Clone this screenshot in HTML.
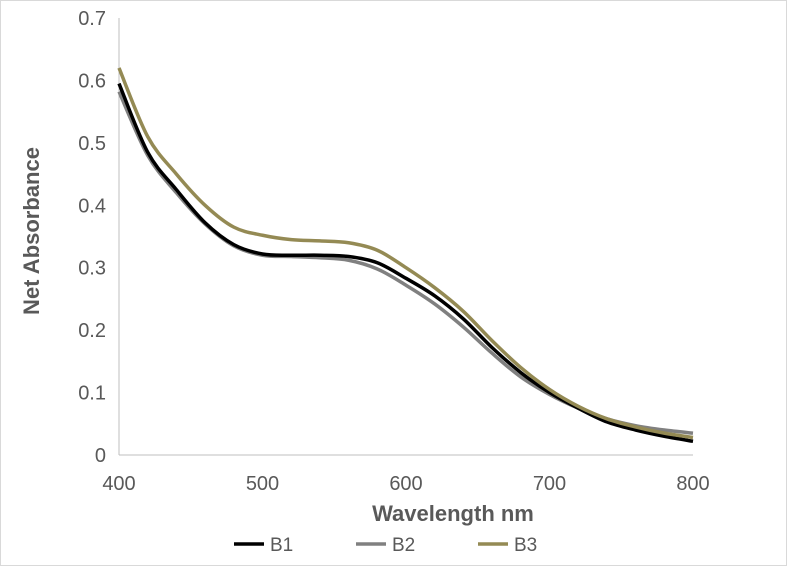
<!DOCTYPE html>
<html><head><meta charset="utf-8"><style>
body{margin:0;background:#fff;}
svg{display:block;font-family:"Liberation Sans",sans-serif;}
</style></head><body>
<svg id="chart" width="787" height="566">
<rect x="0.5" y="0.5" width="786" height="565" fill="#fff" stroke="#d9d9d9"/>
<g id="axes"></g>
<g id="series"></g>
<text x="453" y="521" text-anchor="middle" font-size="22" font-weight="bold" fill="#595959">Wavelength nm</text>
<text transform="translate(39,231) rotate(-90)" text-anchor="middle" font-size="22" font-weight="bold" fill="#595959">Net Absorbance</text>
<g id="legend"></g>
</svg>
<script>
const categories=[400,420,440,460,480,500,520,540,560,580,600,620,640,660,680,700,720,740,760,780,800];
const b1=[0.595,0.485,0.425,0.372,0.337,0.322,0.320,0.320,0.318,0.308,0.283,0.255,0.218,0.172,0.132,0.100,0.075,0.053,0.040,0.030,0.022];
const b2=[0.582,0.480,0.420,0.370,0.335,0.320,0.318,0.316,0.312,0.298,0.272,0.242,0.205,0.163,0.125,0.097,0.075,0.058,0.047,0.040,0.035];
const b3=[0.620,0.510,0.450,0.400,0.365,0.352,0.345,0.343,0.340,0.328,0.300,0.268,0.230,0.183,0.140,0.105,0.078,0.058,0.045,0.035,0.028];
const xTicks=[400,500,600,700,800];
const yTicks=[0,0.1,0.2,0.3,0.4,0.5,0.6,0.7];
const seriesNames=["B1","B2","B3"];
const NS="http://www.w3.org/2000/svg";
const X=v=>119+(v-400)/400*574;
const Y=v=>455-v/0.7*437;
function mk(tag,attrs,parent){const e=document.createElementNS(NS,tag);for(const k in attrs)e.setAttribute(k,attrs[k]);parent.appendChild(e);return e;}
const ax=document.getElementById('axes');
let l=mk('line',{x1:119,y1:Y(0.7),x2:119,y2:455,stroke:'#bfbfbf','stroke-width':1},ax);


l=mk('line',{x1:119,y1:455,x2:693,y2:455,stroke:'#bfbfbf','stroke-width':1},ax);


yTicks.forEach(t=>{const e=mk('text',{x:106,y:Y(t)+7,'text-anchor':'end','font-size':20,fill:'#595959'},ax);e.textContent=String(t);

});
xTicks.forEach(t=>{const e=mk('text',{x:X(t),y:490,'text-anchor':'middle','font-size':20,fill:'#595959'},ax);e.textContent=String(t);

});
const colors=['#000000','#808080','#948a54'];
const data=[b1,b2,b3];
function smooth(pts){let d='M'+pts[0][0]+','+pts[0][1];
for(let i=0;i<pts.length-1;i++){const p0=pts[Math.max(0,i-1)],p1=pts[i],p2=pts[i+1],p3=pts[Math.min(pts.length-1,i+2)];
const c1=[p1[0]+(p2[0]-p0[0])/6,p1[1]+(p2[1]-p0[1])/6],c2=[p2[0]-(p3[0]-p1[0])/6,p2[1]-(p3[1]-p1[1])/6];
d+=' C'+c1.join(',')+' '+c2.join(',')+' '+p2.join(',');}return d;}
const sg=document.getElementById('series');
[1,0,2].forEach(i=>{const p=mk('path',{d:smooth(categories.map((c,j)=>[X(c),Y(data[i][j])])),fill:'none',stroke:colors[i],'stroke-width':3.5,'stroke-linejoin':'round'},sg);

});
const lg=document.getElementById('legend');
const lx=[234,356,478];
seriesNames.forEach((n,i)=>{
mk('line',{x1:lx[i],y1:544,x2:lx[i]+30,y2:544,stroke:colors[i],'stroke-width':3.5},lg);
const t=mk('text',{x:lx[i]+36,y:551,'font-size':19,fill:'#595959'},lg);t.textContent=n;

});
</script>
</body></html>
